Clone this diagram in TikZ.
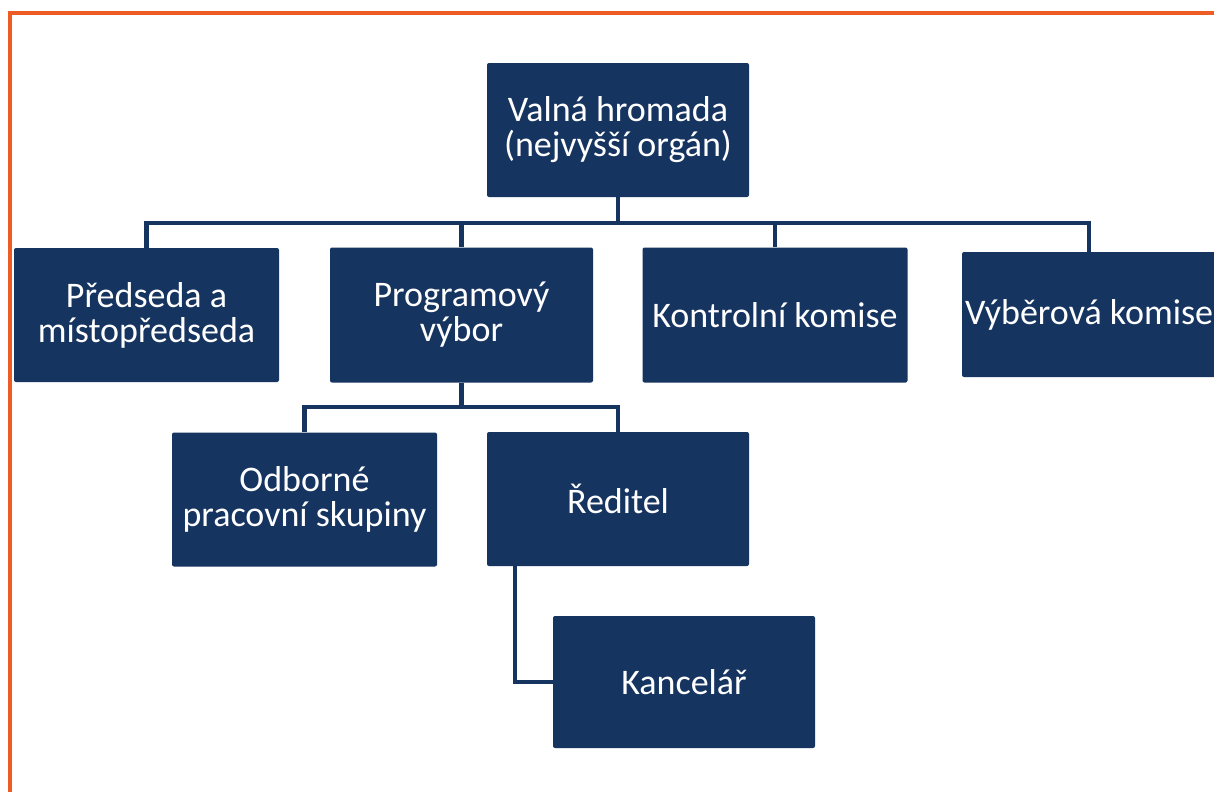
\documentclass[tikz,border=0pt]{standalone}
\usepackage{fontspec}
\setmainfont{Carlito}
\definecolor{navy}{RGB}{22,52,96}
\definecolor{frameorange}{RGB}{238,92,38}
\tikzset{
  orgbox/.style={fill=navy, text=white, rounded corners=2pt, align=center, inner sep=0pt,
    font=\fontsize{36}{35}\selectfont},
  link/.style={draw=navy, line width=4.5pt, line join=miter},
  frameline/.style={draw=frameorange, line width=4.5pt}
}
\begin{document}
\begin{tikzpicture}[x=1pt,y=-1pt]
\useasboundingbox (0,0) rectangle (1214,792);
\clip (0,0) rectangle (1214,792);
\fill[white] (0,0) rectangle (1214,792);
% frame
\coordinate (fA) at (10,792);
\coordinate (fB) at (10,13);
\coordinate (fC) at (1214,13);
\draw[frameline] (fA) -- (fB) -- (fC);
% nodes
\node[orgbox, minimum width=262pt, minimum height=134pt] (V) at (618,130) {Valná hromada\\(nejvyšší orgán)};
\node[orgbox, minimum width=265pt, minimum height=134pt] (P1) at (146.5,315) {Předseda a\\místopředseda};
\node[orgbox, minimum width=263pt, minimum height=135pt] (P2) at (461.5,315) {Programový\\výbor};
\node[orgbox, minimum width=265pt, minimum height=135pt] (P3) at (775,315) {Kontrolní komise};
\node[orgbox, minimum width=254pt, minimum height=125pt] (P4) at (1089,314.5) {Výběrová komise};
\node[orgbox, minimum width=265pt, minimum height=134pt] (O) at (304.5,499.5) {Odborné\\pracovní skupiny};
\node[orgbox, minimum width=262pt, minimum height=134pt] (R) at (618,499) {Ředitel};
\node[orgbox, minimum width=262pt, minimum height=132pt] (K) at (684,682) {Kancelář};
% connectors
\coordinate (bus1) at (618,223);
\coordinate (bus2) at (461.5,407);
\draw[link] (V.south) -- (bus1);
\draw[link] (bus1) -| (P1.north);
\draw[link] (bus1) -| (P2.north);
\draw[link] (bus1) -| (P3.north);
\draw[link] (bus1) -| (P4.north);
\draw[link] (P2.south) -- (bus2);
\draw[link] (bus2) -| (O.north);
\draw[link] (bus2) -| (R.north);
\draw[link] ([xshift=28pt]R.south west) |- (K.west);
\end{tikzpicture}
\end{document}
